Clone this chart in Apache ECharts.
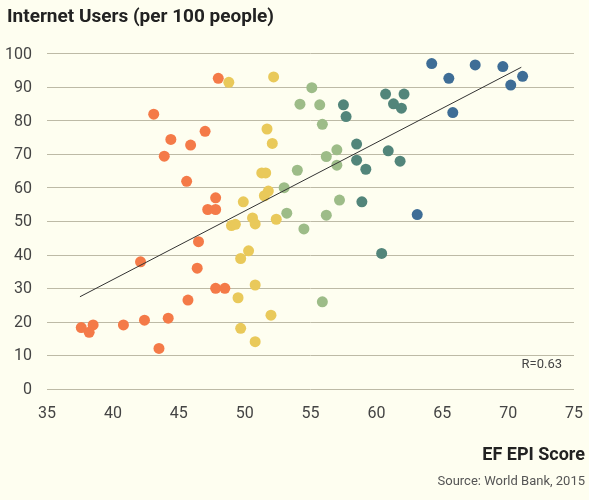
<!DOCTYPE html>
<html>
<head>
<meta charset="utf-8">
<script src="https://cdn.jsdelivr.net/npm/echarts@6/dist/echarts.min.js"></script>
<style>
  html, body { margin: 0; padding: 0; background: #fefef0; }
  #chart { width: 589px; height: 500px; }
</style>
</head>
<body>
<div id="chart"></div>
<script>
  // EF EPI score vs internet users, grouped by colour band
  const orangePts = [[48.0, 92.6], [43.1, 81.9], [47.0, 76.8], [44.4, 74.4], [45.9, 72.7], [43.9, 69.4],
    [45.6, 61.9], [47.8, 57.0], [47.2, 53.5], [47.8, 53.5], [46.5, 43.9], [42.1, 37.9], [46.4, 36.0],
    [47.8, 30.0], [48.5, 30.0], [45.7, 26.5], [44.2, 21.1], [42.4, 20.5], [40.8, 19.1], [38.5, 19.1],
    [37.6, 18.3], [38.2, 16.9], [43.5, 12.1]]
  const yellowPts = [[48.8, 91.4], [52.2, 93.0], [51.7, 77.5], [52.1, 73.2], [51.3, 64.4], [51.6, 64.4],
    [51.8, 59.0], [51.5, 57.6], [49.9, 55.8], [50.6, 51.0], [52.4, 50.6], [50.8, 49.2], [49.0, 48.7],
    [49.3, 49.1], [50.3, 41.2], [49.7, 38.9], [50.8, 31.0], [49.5, 27.2], [52.0, 22.0], [49.7, 18.1],
    [50.8, 14.1]]
  const greenPts = [[55.1, 89.8], [54.2, 84.9], [55.7, 84.7], [55.9, 78.9], [54.0, 65.2], [53.0, 60.0],
    [57.0, 71.3], [56.2, 69.3], [57.0, 66.7], [57.2, 56.3], [53.2, 52.4], [56.2, 51.8], [54.5, 47.7],
    [55.9, 26.0]]
  const tealPts = [[60.7, 87.9], [62.1, 87.9], [57.5, 84.7], [61.3, 85.0], [61.9, 83.7], [57.7, 81.2],
    [58.5, 73.0], [60.9, 71.0], [58.5, 68.2], [61.8, 67.9], [59.2, 65.5], [58.9, 55.8], [60.4, 40.4]]
  const bluePts = [[64.2, 97.0], [67.5, 96.6], [69.6, 96.1], [65.5, 92.6], [71.1, 93.2], [70.2, 90.6],
    [65.8, 82.4], [63.1, 52.0]]
  const trendLine = [[37.5, 27.5], [71.0, 95.9]]
  const xTicks = { min: 35, max: 75, step: 5 }
  const yTicks = { min: 0, max: 100, step: 10 }

  const fontFamily = 'Roboto'
  const chart = echarts.init(document.getElementById('chart'))

  function dots (name, data, color) {
    return {
      name: name,
      type: 'scatter',
      symbolSize: 11,
      itemStyle: { color: color, opacity: 1 },
      data: data,
      z: 3
    }
  }

  function label (text, pos, size, weight, color) {
    return Object.assign({
      text: text,
      padding: 0,
      textStyle: { fontSize: size, fontWeight: weight, color: color, fontFamily: fontFamily }
    }, pos)
  }

  chart.setOption({
    backgroundColor: '#fefef0',
    animation: false,
    textStyle: { fontFamily: fontFamily },
    title: [
      label('Internet Users (per 100 people)', { left: 7, top: 8 }, 19, 'bold', '#222'),
      label('EF EPI Score', { right: 4, top: 446 }, 18, 'bold', '#222'),
      label('Source: World Bank, 2015', { right: 4, top: 475 }, 13, 'normal', '#555'),
      label('R=0.63', { right: 27, top: 358 }, 13, 'normal', '#444')
    ],
    grid: {
      left: 47,
      right: 15,
      top: 53.5,
      bottom: 111
    },
    xAxis: {
      type: 'value',
      min: xTicks.min,
      max: xTicks.max,
      interval: xTicks.step,
      axisLine: { show: false },
      axisTick: { show: false },
      splitLine: { show: false },
      axisLabel: { fontSize: 16, color: '#444', margin: 17, fontFamily: fontFamily }
    },
    yAxis: {
      type: 'value',
      min: yTicks.min,
      max: yTicks.max,
      interval: yTicks.step,
      axisLine: { show: false },
      axisTick: { show: false },
      splitLine: { lineStyle: { color: '#bdbaa6', width: 1 } },
      axisLabel: { fontSize: 16, color: '#444', margin: 15, fontFamily: fontFamily, verticalAlign: 'top', padding: [-7, 0, 0, 0] }
    },
    series: [
      dots('orange', orangePts, '#f47a48'),
      dots('yellow', yellowPts, '#e9c95a'),
      dots('green', greenPts, '#9dbc88'),
      dots('teal', tealPts, '#52857a'),
      dots('blue', bluePts, '#3e6d96'),
      {
        name: 'trend',
        type: 'line',
        data: trendLine,
        symbol: 'none',
        lineStyle: { color: '#333', width: 1 },
        z: 4
      }
    ]
  })
</script>
</body>
</html>
